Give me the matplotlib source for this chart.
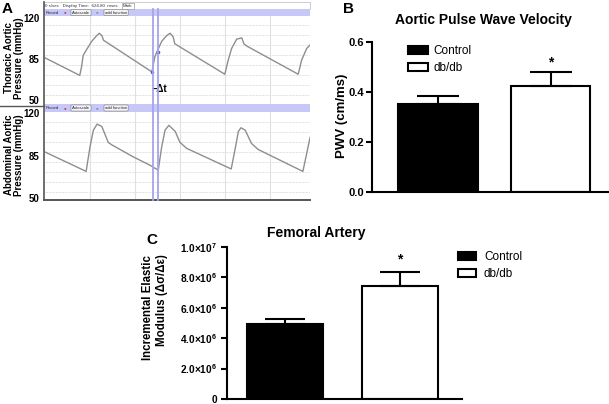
import matplotlib
matplotlib.use('Agg')
import matplotlib.pyplot as plt
from matplotlib.patches import Rectangle, Patch
from matplotlib.lines import Line2D
import numpy as np

plt.rcParams['font.family'] = ['Liberation Sans', 'DejaVu Sans']
plt.rcParams['mathtext.fontset'] = 'custom'
plt.rcParams['mathtext.rm'] = 'Liberation Sans'
plt.rcParams['mathtext.bf'] = 'Liberation Sans:bold'

# --- data ---
# panel A: pressure traces (time in ms, pressure in mmHg)
thoracic_t = [0, 82, 86, 90, 98, 110, 122, 128, 134, 138, 252, 259, 265, 275, 287,
              295, 302, 306, 424, 432, 440, 452, 464, 469, 476, 597, 605, 617, 625]
thoracic_p = [86, 71, 78, 88, 93, 100, 105, 107, 105, 101, 74, 87, 92, 100, 105,
              107, 104, 98, 72, 84, 94, 102, 103, 98, 96, 72, 84, 94, 97]
abdominal_t = [0, 97, 106, 114, 123, 134, 141, 149, 157, 208, 248, 267, 275, 283, 292,
               307, 318, 334, 439, 448, 456, 462, 472, 487, 503, 608, 625]
abdominal_p = [88, 72, 92, 106, 111, 109, 103, 96, 94, 84, 77, 73, 92, 106, 110,
               105, 96, 91, 74, 90, 105, 108, 106, 95, 90, 72, 100]
pressure_ticks = [50, 85, 120]
delta_t_ms = [252, 266]

# panels B and C
groups = ['Control', 'db/db']
pwv_mean = [0.352, 0.424]
pwv_sem = [0.034, 0.058]
modulus_mean = [4.93e6, 7.45e6]
modulus_sem = [0.33e6, 0.92e6]
modulus_ticks = [0, 2e6, 4e6, 6e6, 8e6, 1e7]
modulus_labels = ['0', '2.0\u00d710$^{\\mathbf{6}}$', '4.0\u00d710$^{\\mathbf{6}}$',
                  '6.0\u00d710$^{\\mathbf{6}}$', '8.0\u00d710$^{\\mathbf{6}}$',
                  '1.0\u00d710$^{\\mathbf{7}}$']

W, H = 609, 404
fig = plt.figure(figsize=(W / 100, H / 100), dpi=100)


def px_ax(x0, y0, x1, y1):
    return fig.add_axes([x0 / W, 1 - y1 / H, (x1 - x0) / W, (y1 - y0) / H])


def ftext(x, y, s, **kw):
    return fig.text(x / W, 1 - y / H, s, **kw)


def frect(x0, y0, x1, y1, **kw):
    fig.add_artist(Rectangle((x0 / W, 1 - y1 / H), (x1 - x0) / W, (y1 - y0) / H,
                             transform=fig.transFigure, **kw))


def fline(xs, ys, **kw):
    fig.add_artist(Line2D([x / W for x in xs], [1 - y / H for y in ys],
                          transform=fig.transFigure, **kw))


# ---------------- panel A ----------------
wave_color = '#8e8e8e'
grid_color = '#e0e0e0'
bar_blue = '#c8c8f8'

traces = [
    (thoracic_t, thoracic_p, (16, 104), (46.6, 121.7), 54.2, 8.5,
     'Thoracic Aortic\nPressure (mmHg)', 58),
    (abdominal_t, abdominal_p, (112, 200), (48.4, 121.0), 55.0, 8.25,
     'Abdominal Aortic\nPressure (mmHg)', 155),
]
wave_axes = []
for t, p, (ytop, ybot), ylim, g0, gstep, label, ly in traces:
    ax = px_ax(45, ytop, 310, ybot)
    ax.plot(t, p, color=wave_color, lw=1.0, zorder=3)
    ax.set_xlim(0, 624.8)
    ax.set_ylim(*ylim)
    ax.set_xticks(np.arange(1, 6) * 106.1)
    ax.set_yticks(pressure_ticks)
    ax.set_yticklabels([str(v) for v in pressure_ticks], fontweight='bold')
    ax.set_yticks(g0 + gstep * np.arange(8), minor=True)
    ax.tick_params(axis='both', which='both', length=0)
    ax.tick_params(axis='x', labelbottom=False)
    ax.tick_params(axis='y', labelsize=7, pad=4)
    ax.grid(axis='x', which='major', color=grid_color, lw=0.8)
    ax.grid(axis='y', which='minor', color=grid_color, lw=0.6, ls=(0, (3, 1)))
    for s in ax.spines.values():
        s.set_visible(False)
    ftext(14, ly, label, rotation=90, ha='center', va='center',
          fontsize=7, fontweight='bold', linespacing=1.05)
    wave_axes.append(ax)

# selected points on the thoracic trace (cursor positions)
wave_axes[0].plot(delta_t_ms, [74, 91], 'o', ms=1.6, color='#5a5ad8', zorder=4)

# screenshot chrome: header bar, toolbars, frame
frect(44, 2, 310, 9, facecolor='white', edgecolor='#bbbbbb', lw=0.5)
ftext(45, 5.7, '0 s/sec   Display Time:  624.80  msec', fontsize=3.2,
      va='center', color='#333333')
ftext(123, 5.7, 'Mark', fontsize=3.2, va='center', color='#333333',
      bbox=dict(boxstyle='square,pad=0.25', fc='white', ec='#888888', lw=0.4))
for ytop, ybot in [(9, 16), (104, 112)]:
    frect(44, ytop, 310, ybot, facecolor=bar_blue, edgecolor='none')
    yc = (ytop + ybot) / 2
    ftext(46, yc, 'Record', fontsize=3, va='center', color='#222222')
    ftext(64, yc, '\u25cf', fontsize=3.2, va='center', color='#c03030')
    ftext(72, yc, 'Autoscale', fontsize=3, va='center', color='#222222',
          bbox=dict(boxstyle='round,pad=0.25', fc='#f4f4f4', ec='#777777', lw=0.4))
    ftext(96, yc, '\u25cb', fontsize=3.2, va='center', color='#555555')
    ftext(105, yc, 'add function', fontsize=3, va='center', color='#222222',
          bbox=dict(boxstyle='round,pad=0.25', fc='#f4f4f4', ec='#777777', lw=0.4))

for xc in [152.5, 158]:
    fline([xc, xc], [9, 200], color='#a4a4ee', lw=1.3, zorder=5)

fline([44, 44], [2, 200], color='#555555', lw=1.2)
fline([44, 310], [200, 200], color='#555555', lw=1.4)
fline([0, 44], [106, 106], color='#555555', lw=1.0)

ftext(151.5, 89.5, '\u2013\u0394t', fontsize=7, fontweight='bold', va='center')
ftext(7.5, 9, 'A', fontsize=11, fontweight='bold', ha='center', va='center')

# ---------------- panel B ----------------
bar_colors = ['black', 'white']
x = np.arange(len(groups))

axB = px_ax(372, 42.3, 608, 191.7)
axB.bar(x, pwv_mean, width=0.71, color=bar_colors, edgecolor='black',
        linewidth=1.5, zorder=2)
axB.errorbar(x, pwv_mean, yerr=[np.zeros(2), pwv_sem], fmt='none', ecolor='black',
             elinewidth=1.5, capsize=15, capthick=1.5, zorder=3)
axB.annotate('*', (1, pwv_mean[1] + pwv_sem[1]), xytext=(0, 1.5),
             textcoords='offset points', ha='center', va='bottom',
             fontsize=10, fontweight='bold')
axB.set_xlim(-0.587, 1.511)
axB.set_ylim(0, 0.6)
axB.set_yticks([0, 0.2, 0.4, 0.6])
axB.set_yticklabels(['0.0', '0.2', '0.4', '0.6'], fontweight='bold')
axB.set_xticks([])
axB.tick_params(axis='y', direction='out', length=4, width=1.5, labelsize=8, pad=2)
for side in ['top', 'right']:
    axB.spines[side].set_visible(False)
for side in ['left', 'bottom']:
    axB.spines[side].set_linewidth(1.5)
handles = [Patch(facecolor=c, edgecolor='black', linewidth=1.5) for c in bar_colors]
axB.legend(handles, groups, loc='upper left', bbox_to_anchor=(408 / W, 1 - 45 / H),
           bbox_transform=fig.transFigure, frameon=False, fontsize=8.5,
           handlelength=1.7, handleheight=0.7, handletextpad=0.45,
           labelspacing=0.45, borderpad=0, borderaxespad=0)
ftext(483, 20, 'Aortic Pulse Wave Velocity', fontsize=10, fontweight='bold',
      ha='center', va='center')
ftext(342, 116, 'PWV (cm/ms)', fontsize=9.5, fontweight='bold', rotation=90,
      ha='center', va='center')
ftext(348, 9, 'B', fontsize=11, fontweight='bold', ha='center', va='center')

# ---------------- panel C ----------------
axC = px_ax(227, 247, 462, 399)
axC.bar(x, modulus_mean, width=0.66, color=bar_colors, edgecolor='black',
        linewidth=1.5, zorder=2)
axC.errorbar(x, modulus_mean, yerr=[np.zeros(2), modulus_sem], fmt='none',
             ecolor='black', elinewidth=1.5, capsize=14.5, capthick=1.5, zorder=3)
axC.annotate('*', (1, modulus_mean[1] + modulus_sem[1]), xytext=(0, 4),
             textcoords='offset points', ha='center', va='bottom',
             fontsize=10, fontweight='bold')
axC.set_xlim(-0.504, 1.539)
axC.set_ylim(0, 1e7)
axC.set_yticks(modulus_ticks)
axC.set_yticklabels(modulus_labels, fontweight='bold')
axC.set_xticks([])
axC.tick_params(axis='y', direction='out', length=4, width=1.5, labelsize=7.3, pad=3)
for side in ['top', 'right']:
    axC.spines[side].set_visible(False)
for side in ['left', 'bottom']:
    axC.spines[side].set_linewidth(1.5)
axC.legend(handles, groups, loc='upper left', bbox_to_anchor=(458 / W, 1 - 251 / H),
           bbox_transform=fig.transFigure, frameon=False, fontsize=8.5,
           handlelength=1.5, handleheight=0.7, handletextpad=0.7,
           labelspacing=0.45, borderpad=0, borderaxespad=0)
ftext(316, 233, 'Femoral Artery', fontsize=10, fontweight='bold',
      ha='center', va='center')
ftext(155, 307, 'Incremental Elastic\nModulus (\u0394\u03c3/\u0394\u03b5)', fontsize=8.3,
      fontweight='bold', rotation=90, ha='center', va='center',
      multialignment='right', linespacing=1.2)
ftext(152, 240, 'C', fontsize=11, fontweight='bold', ha='center', va='center')

fig.savefig('out.png', dpi=100)
